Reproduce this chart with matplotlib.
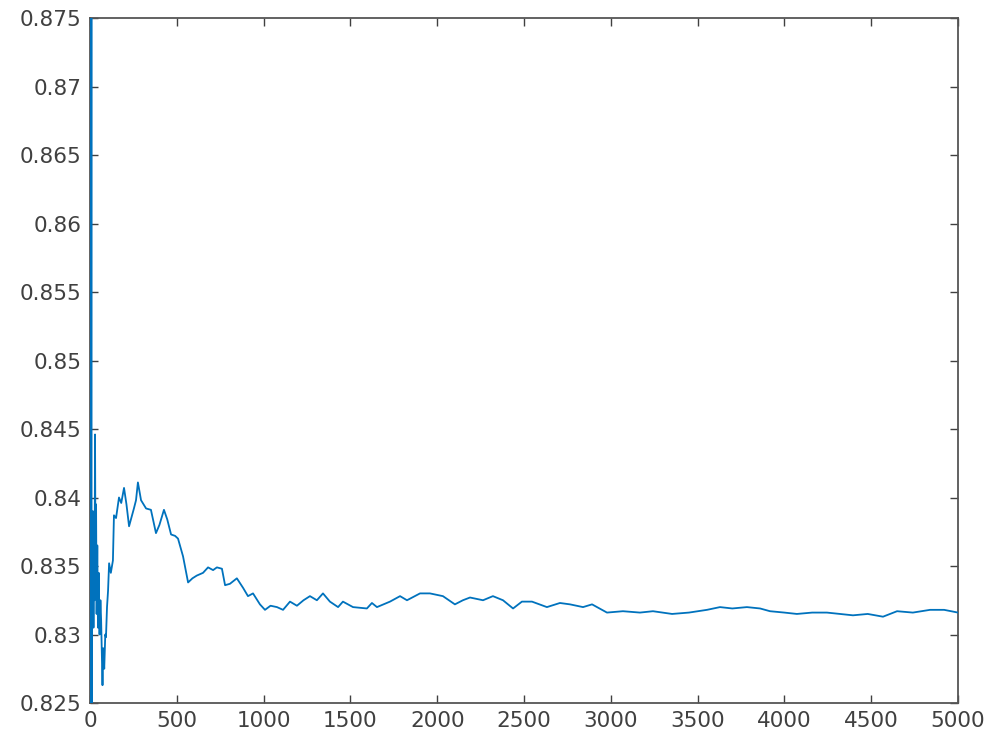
import matplotlib
matplotlib.use("Agg")
import matplotlib.pyplot as plt

# running average
iteraciones = [1, 2, 4, 6, 8, 10, 12, 14, 17, 20, 23, 26, 29, 32, 35, 38, 42, 46, 50, 55,
               60, 64, 68, 72, 76, 82, 88, 92, 98, 104, 110, 120, 132, 138, 150, 167, 180,
               196, 210, 225, 240, 253, 265, 276, 294, 323, 351, 380, 400, 426, 445, 467,
               490, 507, 536, 565, 590, 615, 651, 680, 709, 731, 760, 778, 806, 846, 882,
               910, 939, 979, 1008, 1040, 1077, 1112, 1152, 1192, 1230, 1267, 1307, 1342,
               1382, 1429, 1457, 1515, 1595, 1624, 1653, 1728, 1786, 1826, 1901, 1958, 2033,
               2102, 2148, 2189, 2264, 2321, 2379, 2437, 2488, 2546, 2632, 2707, 2765, 2840,
               2892, 2978, 3070, 3168, 3243, 3353, 3450, 3554, 3629, 3700, 3784, 3860, 3917,
               4000, 4072, 4160, 4245, 4320, 4395, 4480, 4568, 4649, 4740, 4839, 4920, 5000]
promedio = [1.0, 0.5, 0.75, 0.833, 0.875, 0.80, 0.838, 0.831, 0.839, 0.8305, 0.837,
            0.8325, 0.8446, 0.834, 0.8395, 0.8315, 0.8365, 0.8305, 0.8345, 0.8300,
            0.8325, 0.8311, 0.8285, 0.8263, 0.8290, 0.8275, 0.8300, 0.8298, 0.8320,
            0.8332, 0.8352, 0.8345, 0.8354, 0.8387, 0.8385, 0.8400, 0.8396, 0.8407,
            0.8395, 0.8379, 0.8386, 0.8392, 0.8398, 0.8411, 0.8398, 0.8392, 0.8391,
            0.8374, 0.8380, 0.8391, 0.8384, 0.8373, 0.8372, 0.8370, 0.8357, 0.8338,
            0.8341, 0.8343, 0.8345, 0.8349, 0.8347, 0.8349, 0.8348, 0.8336, 0.8337,
            0.8341, 0.8334, 0.8328, 0.8330, 0.8322, 0.8318, 0.8321, 0.8320, 0.8318,
            0.8324, 0.8321, 0.8325, 0.8328, 0.8325, 0.8330, 0.8324, 0.8320, 0.8324,
            0.8320, 0.8319, 0.8323, 0.8320, 0.8324, 0.8328, 0.8325, 0.8330, 0.8330,
            0.8328, 0.8322, 0.8325, 0.8327, 0.8325, 0.8328, 0.8325, 0.8319, 0.8324,
            0.8324, 0.8320, 0.8323, 0.8322, 0.8320, 0.8322, 0.8316, 0.8317, 0.8316,
            0.8317, 0.8315, 0.8316, 0.8318, 0.8320, 0.8319, 0.8320, 0.8319, 0.8317,
            0.8316, 0.8315, 0.8316, 0.8316, 0.8315, 0.8314, 0.8315, 0.8313, 0.8317,
            0.8316, 0.8318, 0.8318, 0.8316]

plt.rcParams['font.family'] = ['DejaVu Sans']

fig = plt.figure(figsize=(9.94, 7.45), dpi=100)
ax = fig.add_axes([90 / 994, 1 - 703 / 745, (958 - 90) / 994, (703 - 18) / 745])

ax.plot(iteraciones, promedio, color='#0072BD', linewidth=1.3, zorder=3)

ax.set_xlim(0, 5000)
ax.set_ylim(0.825, 0.875)
ax.set_xticks(range(0, 5001, 500))
ax.set_yticks([0.825 + 0.005 * i for i in range(11)])
ax.set_yticklabels(['0.825', '0.83', '0.835', '0.84', '0.845', '0.85', '0.855',
                    '0.86', '0.865', '0.87', '0.875'])

gris = '#404040'
for lado in ax.spines.values():
    lado.set_color('#555555')
    lado.set_linewidth(1.3)
ax.tick_params(direction='in', top=True, right=True, length=6, width=1,
               colors=gris, labelsize=15.5, pad=6)

plt.savefig('out.png', dpi=100)
